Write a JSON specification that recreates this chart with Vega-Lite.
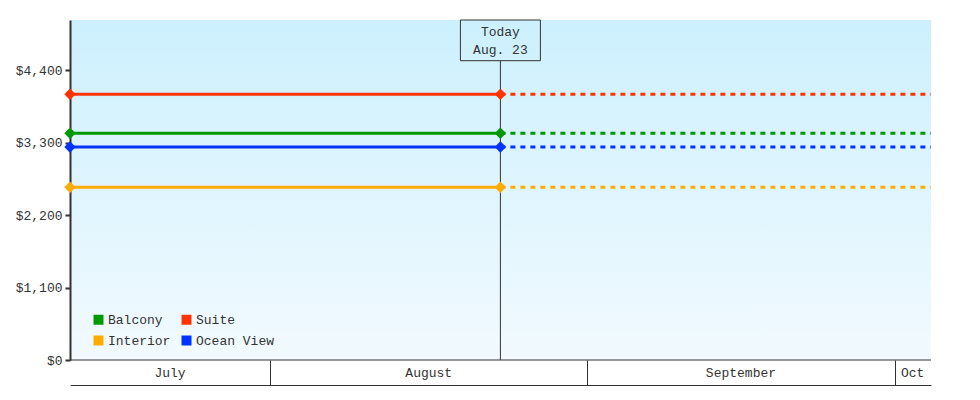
{
  "$schema": "https://vega.github.io/schema/vega-lite/v6.json",
  "width": 861,
  "height": 340,
  "autosize": {"type": "none"},
  "padding": {"left": 70, "top": 20, "right": 49, "bottom": 40},
  "background": "white",
  "config": {
    "font": "Liberation Mono",
    "view": {
      "stroke": null,
      "fill": {
        "gradient": "linear", "x1": 0, "y1": 0, "x2": 0, "y2": 1,
        "stops": [{"offset": 0, "color": "#ccf0fd"}, {"offset": 1, "color": "#f2faff"}]
      }
    },
    "axis": {"labelFont": "Liberation Mono", "labelFontSize": 13, "labelColor": "#333", "grid": false}
  },
  "data": {
    "values": [
      {"cabin": "Balcony", "date": "2023-07-12T11:00:00", "price": 3443, "segment": "actual"},
      {"cabin": "Balcony", "date": "2023-08-23T12:00:00", "price": 3443, "segment": "actual"},
      {"cabin": "Balcony", "date": "2023-08-23T12:00:00", "price": 3443, "segment": "forecast"},
      {"cabin": "Balcony", "date": "2023-10-04T13:30:00", "price": 3443, "segment": "forecast"},
      {"cabin": "Suite", "date": "2023-07-12T11:00:00", "price": 4036, "segment": "actual"},
      {"cabin": "Suite", "date": "2023-08-23T12:00:00", "price": 4036, "segment": "actual"},
      {"cabin": "Suite", "date": "2023-08-23T12:00:00", "price": 4036, "segment": "forecast"},
      {"cabin": "Suite", "date": "2023-10-04T13:30:00", "price": 4036, "segment": "forecast"},
      {"cabin": "Interior", "date": "2023-07-12T11:00:00", "price": 2624, "segment": "actual"},
      {"cabin": "Interior", "date": "2023-08-23T12:00:00", "price": 2624, "segment": "actual"},
      {"cabin": "Interior", "date": "2023-08-23T12:00:00", "price": 2624, "segment": "forecast"},
      {"cabin": "Interior", "date": "2023-10-04T13:30:00", "price": 2624, "segment": "forecast"},
      {"cabin": "Ocean View", "date": "2023-07-12T11:00:00", "price": 3236, "segment": "actual"},
      {"cabin": "Ocean View", "date": "2023-08-23T12:00:00", "price": 3236, "segment": "actual"},
      {"cabin": "Ocean View", "date": "2023-08-23T12:00:00", "price": 3236, "segment": "forecast"},
      {"cabin": "Ocean View", "date": "2023-10-04T13:30:00", "price": 3236, "segment": "forecast"}
    ]
  },
  "layer": [
    {
      "data": {"values": [{}]},
      "mark": {"type": "rule", "color": "#333", "strokeWidth": 1},
      "encoding": {
        "x": {"datum": {"year": 2023, "month": 8, "date": 23, "hours": 12}, "type": "temporal", "title": null},
        "y": {"datum": 0, "title": null},
        "y2": {"datum": 4546}
      }
    },
    {
      "data": {"values": [{}]},
      "mark": {"type": "rect", "width": 80, "fill": "transparent", "stroke": "#333", "strokeWidth": 1},
      "encoding": {
        "x": {"datum": {"year": 2023, "month": 8, "date": 23, "hours": 12}, "type": "temporal", "title": null},
        "y": {"datum": 5164, "title": null},
        "y2": {"datum": 4546}
      }
    },
    {
      "data": {"values": [{}]},
      "mark": {"type": "text", "text": ["Today", "Aug. 23"], "lineHeight": 18, "fontSize": 13, "color": "#333", "align": "center", "baseline": "middle"},
      "encoding": {
        "x": {"datum": {"year": 2023, "month": 8, "date": 23, "hours": 12}, "type": "temporal", "title": null},
        "y": {"datum": 4982, "title": null}
      }
    },
    {
      "transform": [{"filter": "datum.segment === 'actual'"}],
      "mark": {"type": "line", "strokeWidth": 3},
      "encoding": {
        "x": {
          "field": "date", "type": "temporal", "title": null,
          "scale": {"domain": [{"year": 2023, "month": 7, "date": 12, "hours": 11}, {"year": 2023, "month": 10, "date": 4, "hours": 13, "minutes": 30}]},
          "axis": {
            "values": [{"year": 2023, "month": 8, "date": 1}, {"year": 2023, "month": 9, "date": 1}, {"year": 2023, "month": 10, "date": 1}],
            "offset": 25, "domain": true, "domainColor": "#333", "domainWidth": 1,
            "ticks": true, "tickSize": -25, "tickColor": "#333", "tickWidth": 1,
            "labels": false, "grid": false, "title": null
          }
        },
        "y": {
          "field": "price", "type": "quantitative", "title": null,
          "scale": {"domain": [0, 5164], "nice": false},
          "axis": {
            "values": [0, 1100, 2200, 3300, 4400], "format": "$,.0f",
            "domainColor": "#333", "domainWidth": 2,
            "tickColor": "#333", "tickWidth": 2, "tickSize": 5, "labelPadding": 3, "title": null
          }
        },
        "color": {
          "field": "cabin", "type": "nominal",
          "scale": {"domain": ["Balcony", "Interior", "Suite", "Ocean View"], "range": ["#009900", "#ffaa00", "#ff3300", "#0033ff"]},
          "legend": {
            "title": null, "orient": "none", "legendX": 22, "legendY": 293,
            "columns": 2, "symbolType": "square", "symbolSize": 100, "symbolStrokeWidth": 0,
            "labelFont": "Liberation Mono", "labelFontSize": 13, "labelColor": "#333",
            "labelOffset": 3, "rowPadding": 7, "columnPadding": 9,
            "encode": {"symbols": {"update": {"fill": {"scale": "color", "field": "value"}, "strokeWidth": {"value": 0}, "opacity": {"value": 1}}}}
          }
        }
      }
    },
    {
      "transform": [{"filter": "datum.segment === 'forecast'"}],
      "mark": {"type": "line", "strokeWidth": 3, "strokeDash": [5, 5]},
      "encoding": {
        "x": {"field": "date", "type": "temporal", "title": null},
        "y": {"field": "price", "type": "quantitative", "title": null},
        "color": {"field": "cabin", "type": "nominal"}
      }
    },
    {
      "data": {"values": [{}]},
      "mark": {"type": "rule", "color": "#333", "strokeWidth": 1},
      "encoding": {
        "y": {"datum": 0, "title": null}
      }
    },
    {
      "data": {
        "values": [
          {"month": "July", "mid": "2023-07-22T05:30:00"},
          {"month": "August", "mid": "2023-08-16T12:00:00"},
          {"month": "September", "mid": "2023-09-16T00:00:00"},
          {"month": "Oct", "mid": "2023-10-02T18:30:00"}
        ]
      },
      "mark": {"type": "text", "dy": 13, "fontSize": 13, "color": "#333", "align": "center", "baseline": "middle"},
      "encoding": {
        "x": {"field": "mid", "type": "temporal", "title": null},
        "y": {"datum": 0, "title": null},
        "text": {"field": "month"}
      }
    },
    {
      "transform": [{"filter": "datum.segment === 'actual'"}],
      "mark": {"type": "point", "shape": "diamond", "filled": true, "size": 130, "opacity": 1},
      "encoding": {
        "x": {"field": "date", "type": "temporal", "title": null},
        "y": {"field": "price", "type": "quantitative", "title": null},
        "color": {"field": "cabin", "type": "nominal"}
      }
    }
  ]
}
